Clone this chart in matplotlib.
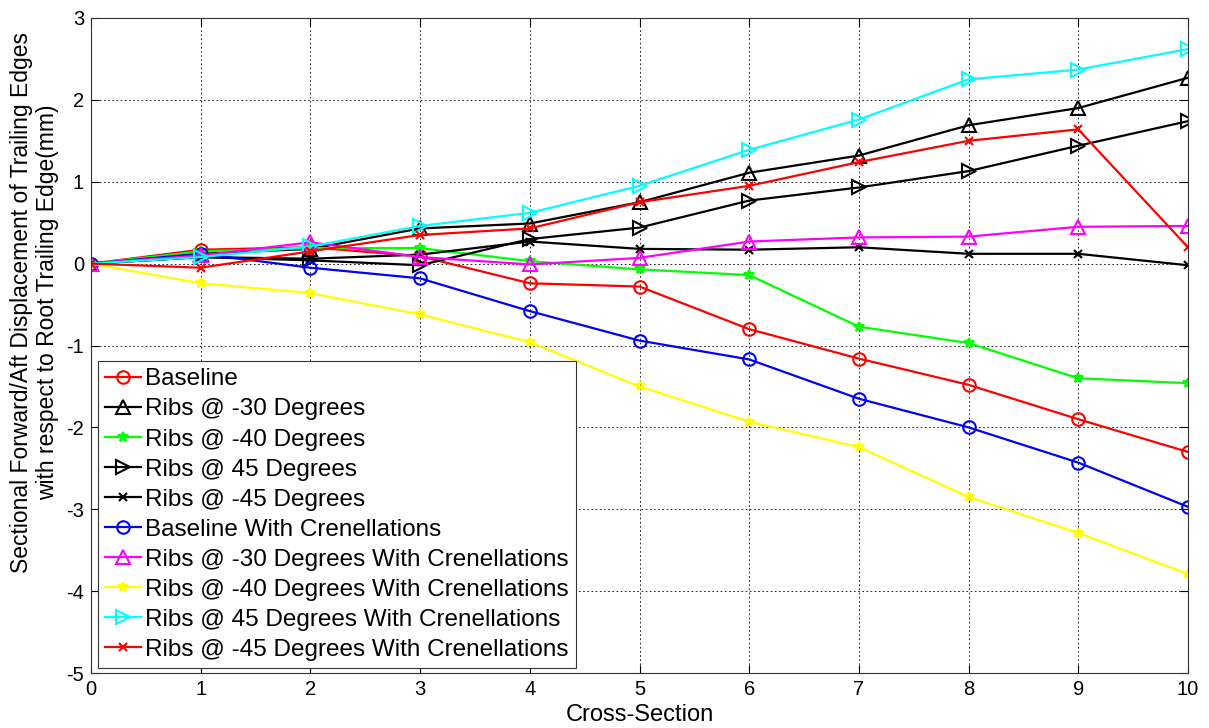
import matplotlib
matplotlib.use("Agg")
import matplotlib.pyplot as plt

plt.rcParams['font.family'] = ['Liberation Sans', 'DejaVu Sans']
plt.rcParams['axes.unicode_minus'] = False

sections = [0, 1, 2, 3, 4, 5, 6, 7, 8, 9, 10]

baseline = [0, 0.17, 0.20, 0.09, -0.24, -0.28, -0.80, -1.16, -1.48, -1.90, -2.30]
ribs_m30 = [0, 0.12, 0.18, 0.43, 0.49, 0.75, 1.11, 1.32, 1.69, 1.90, 2.27]
ribs_m40 = [0, 0.15, 0.19, 0.19, 0.03, -0.07, -0.14, -0.77, -0.97, -1.40, -1.46]
ribs_p45 = [0, 0.08, 0.04, -0.02, 0.30, 0.44, 0.77, 0.93, 1.13, 1.44, 1.74]
ribs_m45 = [0, 0.08, 0.06, 0.11, 0.27, 0.18, 0.17, 0.20, 0.12, 0.12, -0.02]
baseline_cren = [0, 0.12, -0.05, -0.18, -0.58, -0.94, -1.17, -1.65, -2.00, -2.43, -2.97]
ribs_m30_cren = [0, 0.10, 0.26, 0.08, -0.01, 0.07, 0.27, 0.32, 0.33, 0.45, 0.46]
ribs_m40_cren = [0, -0.24, -0.36, -0.62, -0.96, -1.50, -1.93, -2.24, -2.85, -3.29, -3.79]
ribs_p45_cren = [0, 0.08, 0.21, 0.46, 0.62, 0.95, 1.39, 1.76, 2.25, 2.37, 2.62]
ribs_m45_cren = [0, -0.05, 0.15, 0.35, 0.43, 0.75, 0.95, 1.24, 1.50, 1.64, 0.20]

series = [
    ("Baseline", baseline, "#ff0000", "o"),
    ("Ribs @ -30 Degrees", ribs_m30, "#000000", "^"),
    ("Ribs @ -40 Degrees", ribs_m40, "#00ff00", "*"),
    ("Ribs @ 45 Degrees", ribs_p45, "#000000", ">"),
    ("Ribs @ -45 Degrees", ribs_m45, "#000000", "x"),
    ("Baseline With Crenellations", baseline_cren, "#0000ff", "o"),
    ("Ribs @ -30 Degrees With Crenellations", ribs_m30_cren, "#ff00ff", "^"),
    ("Ribs @ -40 Degrees With Crenellations", ribs_m40_cren, "#ffff00", "*"),
    ("Ribs @ 45 Degrees With Crenellations", ribs_p45_cren, "#00ffff", ">"),
    ("Ribs @ -45 Degrees With Crenellations", ribs_m45_cren, "#ff0000", "x"),
]

fig = plt.figure(figsize=(12.09, 7.28), dpi=100)
ax = fig.add_axes([0.0753, 0.0755, 0.9073, 0.8998])

for label, vals, color, marker in series:
    ms = {"o": 9, "^": 9.5, ">": 9.5, "*": 7.5, "x": 5.5}[marker]
    ax.plot(sections, vals, color=color, marker=marker, markersize=ms,
            markerfacecolor="none", markeredgecolor=color, markeredgewidth=1.5,
            linewidth=1.6, label=label)

ax.set_xlim(0, 10)
ax.set_ylim(-5, 3)
ax.set_xticks(range(0, 11))
ax.set_yticks(range(-5, 4))
ax.grid(True, color="black", linestyle=(0, (2, 3)), linewidth=0.6)
ax.tick_params(direction="in", top=True, right=True, labelsize=14.5, length=6,
               width=0.8, pad=5)
for s in ax.spines.values():
    s.set_linewidth(0.8)
    s.set_color("#333333")

ax.set_xlabel("Cross-Section", fontsize=17, labelpad=3.5)
fig.text(0.018, 0.585, "Sectional Forward/Aft Displacement of Trailing Edges",
         rotation=90, ha="center", va="center", fontsize=16.5)
fig.text(0.0395, 0.585, "with respect to Root Trailing Edge(mm)",
         rotation=90, ha="center", va="center", fontsize=16.5)

leg = ax.legend(loc="lower left", bbox_to_anchor=(0.0064, 0.0076),
                borderaxespad=0, fontsize=17.5, handlelength=1.45,
                handletextpad=0.2, labelspacing=0.33, borderpad=0.3,
                fancybox=False, framealpha=1, edgecolor="#333333")
leg.get_frame().set_linewidth(0.8)

fig.savefig("out.png", dpi=100)
